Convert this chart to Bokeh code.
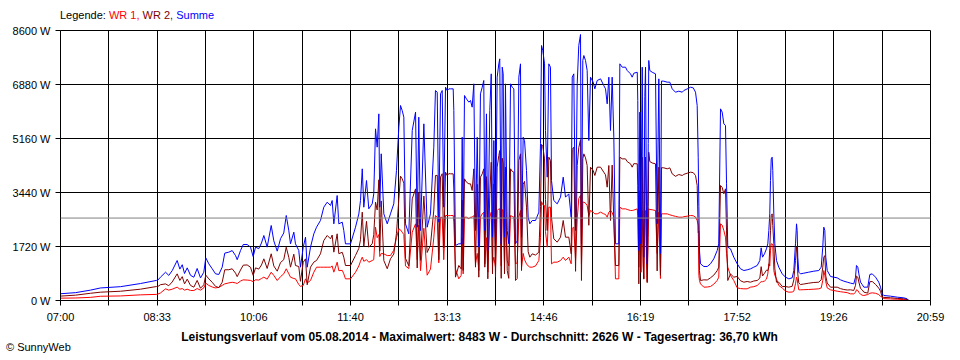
import numpy as np
from bokeh.plotting import figure
from bokeh.models import FixedTicker, Span, Range1d, Div
from bokeh.layouts import column
from bokeh.embed import file_html
from bokeh.resources import INLINE

FONT = "Liberation Sans"

# time in minutes after 07:00
t_min = [
    0.0, 14.5, 28.9, 38.6, 57.9, 77.1, 92.6,
    93.5, 96.4, 101.3, 104.4, 107.7, 112.5, 115.1, 117.4, 119.6, 122.2, 125.4, 128.6, 131.8, 135.0,
    138.2, 140.1, 143.0, 146.3, 149.5, 152.7, 155.9, 158.4, 162.3, 165.6, 168.8, 170.4, 173.6, 176.2,
    180.0, 183.2, 185.8, 188.1, 191.2, 193.8, 196.1, 199.3, 203.2, 205.7, 209.0, 212.2, 215.3, 217.7, 220.2,
    221.8, 225.0, 226.6, 229.8, 231.4, 234.1, 236.3, 237.9, 241.1, 244.3, 246.9, 250.7, 253.9, 257.2,
    260.4, 262.0, 263.6, 266.8, 268.4, 271.7, 273.2, 274.8, 279.7, 284.5, 287.7, 289.3, 291.0, 292.5,
    295.1, 297.3, 300.6, 302.1, 303.8, 305.4, 307.0, 307.9, 309.3, 311.8, 315.1, 318.2, 321.4, 324.0,
    326.3, 327.9, 329.5, 331.1, 332.7, 335.9, 339.2, 342.4, 344.0, 345.5, 347.2, 350.4, 353.6, 356.8,
    360.0, 361.6, 363.3, 364.8, 366.5, 368.1, 369.6, 371.3, 372.9, 374.5,
    376.1, 378.7, 379.3, 380.9, 384.1, 386.4, 387.4, 388.3, 389.6, 391.5, 393.8, 395.4, 397.0, 398.6,
    400.2, 401.9, 403.4, 405.0, 406.7, 408.2, 409.2, 410.8, 412.1, 414.0, 415.4, 416.6, 417.9, 419.5,
    421.1, 422.7, 423.6, 425.0, 426.0, 426.9, 428.2, 429.1, 430.8, 432.3, 434.0, 435.6, 437.2, 438.8,
    440.4, 442.0, 443.6, 444.6, 446.2, 447.5, 449.4, 451.0, 452.6, 454.9, 458.1, 461.3, 462.9, 463.9,
    465.1, 466.8, 467.7, 469.4, 470.9, 472.5, 473.5, 475.7, 479.0, 482.2, 484.8, 487.0, 490.2, 492.5,
    493.5, 495.0, 496.7, 498.3, 499.8, 501.5, 502.4, 503.7, 504.7, 506.3, 507.9, 509.5, 511.1, 513.7,
    515.3, 517.6, 520.8, 523.9, 525.6, 527.2, 528.8, 530.4, 532.0, 533.6, 535.2, 538.4,
    539.4, 541.7, 544.9, 546.5, 549.7, 551.3, 552.9, 556.2, 556.7, 557.7, 558.7, 559.6, 561.0, 561.9,
    562.5, 563.5, 564.2, 565.1, 565.8, 566.8, 567.3, 568.3, 570.6, 573.8, 575.4, 577.0, 578.6, 579.6,
    581.8, 585.1, 587.6, 589.9, 593.1, 596.3, 599.6, 601.1, 604.4, 607.6, 610.2, 612.4, 614.0, 615.0,
    615.6, 616.2, 617.2, 620.4, 623.7, 626.8, 630.0, 633.3, 634.8, 636.5, 638.1, 639.7, 641.3, 642.3,
    643.5, 646.1, 649.3, 652.6, 655.8, 659.0, 662.2,
    665.4, 668.6, 671.9, 674.4, 675.7, 677.0, 678.9, 680.8, 682.1, 683.1, 684.0, 684.7, 685.4, 686.3,
    686.9, 687.9, 688.9, 690.5, 692.7, 696.0, 699.2, 702.4, 705.6, 707.2, 708.8, 709.8, 710.4, 711.0,
    712.0, 713.6, 716.8, 721.6, 726.5, 731.3, 733.6, 735.1, 736.1, 737.1, 738.0, 739.4, 742.6, 745.8,
    749.0, 752.2, 755.4, 758.7, 761.9, 765.0, 766.7, 767.6, 768.9, 769.9, 771.5, 773.1, 774.7, 778.5,
    780.5, 782.8, 786.0, 789.1, 790.8, 792.4, 794.0, 800.4, 806.9, 813.3, 816.5, 818.1,
]

# Summe (W)
summe = [
    215, 250, 330, 400, 440, 540, 640,
    637, 743, 901, 800, 950, 1274, 1000, 1140, 860, 1040, 800, 743, 1020, 720,
    900, 1359, 1170, 1010, 850, 830, 1060, 1508, 1540, 1590, 1430, 1300, 1590, 1783,
    1783, 1700, 1400, 1700, 1650, 1830, 2070, 1700, 2389, 1900, 1571, 1970, 2150, 2707, 2220,
    1805, 2176, 1805, 1592, 1061, 1699, 2017, 1061, 1699, 2123, 2335, 2548, 2972, 3132,
    3026, 3185, 2442, 3344, 2442, 2495, 2229, 1805, 1805, 2335, 2760, 3185, 4194, 2972,
    3822, 2920, 3079, 3397, 5468, 4884, 5945, 2972, 4672, 2760, 2442, 2760, 3079, 4141,
    5521, 6211, 6052, 5839, 2442, 2123, 5414, 5998, 2335, 5839, 2229, 5627, 2335, 2760,
    4884, 6688, 6635, 2495, 6582, 6688, 2972, 6794, 6688, 6741,
    6742, 6742, 6051, 1752, 1806, 1806, 5202, 1806, 6529, 6423, 6317, 6370, 6158, 6901,
    2230, 5202, 1699, 6582, 6794, 7007, 2230, 5945, 1593, 6051, 7219, 2017, 5096, 1806,
    7113, 7538, 7697, 1806, 7432, 7219, 2017, 6901, 2230, 1806, 6901, 6794, 6742, 1806,
    1900, 7113, 7538, 2017, 5202, 5096, 4141, 2654, 2442, 2548, 2548, 2813, 4990, 8122,
    7963, 7538, 5415, 3928, 7538, 7432, 3822, 3185, 3079, 3291, 3928, 3291, 3397, 2654,
    7113, 7219, 2230, 6901, 8122, 8472, 1806, 7644, 7803, 7644, 7326, 5096, 7113, 6954,
    6742, 7007, 7060, 6848, 6742, 6264, 7113, 5415, 7113, 5202, 1806, 1806,
    7538, 7431, 7431, 7325, 7219, 7113, 7240, 7271, 6370, 1592, 6000, 1800, 7431, 2500,
    1380, 6500, 7431, 3000, 1168, 5000, 7644, 7325, 7271, 7219, 2442, 7060, 1500, 6990,
    6986, 6954, 6954, 6741, 6635, 6667, 6635, 6688, 6741, 6794, 6773, 6635, 6211, 4565,
    3000, 1592, 1168, 1083, 1083, 1168, 1327, 1592, 1805, 6105, 6000, 5627, 5574, 3716,
    1699, 1646, 1380, 1168, 1009, 955, 977,
    1008, 1062, 1115, 1274, 1677, 1380, 1487, 1646, 1805, 2230, 2760, 3822, 4512, 4565,
    4141, 2760, 1805, 1274, 1062, 849, 743, 690, 722, 955, 1805, 2442, 2230, 1380,
    902, 849, 870, 902, 934, 955, 1062, 1699, 2336, 2230, 1380, 955, 764, 743,
    722, 658, 616, 584, 552, 531, 743, 1115, 1062, 849, 584, 510, 425, 425,
    828, 849, 743, 584, 425, 212, 159, 138, 106, 85, 53, 0,
]

# WR 1 (W)
wr1 = [
    75, 80, 100, 135, 145, 180, 195,
    200, 240, 372, 330, 360, 425, 360, 380, 330, 360, 320, 318, 380, 330,
    400, 551, 480, 430, 400, 420, 480, 530, 560, 580, 560, 540, 620, 658,
    650, 640, 600, 660, 650, 700, 743, 680, 901, 800, 637, 760, 850, 1010, 850,
    743, 700, 690, 510, 450, 480, 690, 560, 637, 900, 1061, 1061, 1061, 1061,
    1061, 1100, 902, 1220, 950, 960, 850, 690, 690, 900, 1100, 1250, 1380, 1250,
    1300, 1220, 1274, 1300, 2335, 2000, 2100, 1400, 1500, 1486, 1430, 1433, 1600, 2000,
    2282, 2250, 2176, 2100, 1100, 1019, 2176, 2442, 1300, 2400, 950, 2300, 806, 1000,
    2000, 2707, 2650, 1200, 2650, 2650, 1300, 2707, 2707, 2700,
    2707, 2707, 2500, 1008, 690, 800, 2000, 849, 2654, 2654, 2601, 2654, 2654, 2707,
    1168, 1500, 955, 2654, 2760, 2813, 1168, 2000, 902, 2654, 2813, 1168, 1380, 1062,
    2866, 2919, 2919, 1100, 2900, 2850, 1168, 2654, 1274, 1100, 2707, 2680, 2654, 1168,
    1200, 2654, 2866, 1062, 1500, 1300, 1168, 1100, 1062, 1062, 1100, 1274, 2000, 3150,
    3050, 3026, 2200, 1699, 2972, 2972, 1168, 1221, 1221, 1274, 1380, 1274, 1380, 1168,
    2300, 2336, 1300, 2600, 3250, 3350, 1168, 3132, 3132, 3100, 3026, 2700, 2866, 2813,
    2760, 2760, 2813, 2760, 2740, 2654, 2813, 2866, 2800, 2654, 690, 690,
    2972, 2919, 2919, 2900, 2866, 2866, 2880, 2919, 2700, 1062, 2500, 900, 2866, 1100,
    700, 2600, 2866, 1300, 600, 2000, 2919, 2900, 2890, 2866, 1500, 2813, 700, 2760,
    2760, 2760, 2730, 2707, 2680, 2654, 2654, 2670, 2686, 2707, 2700, 2654, 2548, 2400,
    800, 637, 531, 425, 430, 446, 520, 640, 743, 2442, 2400, 2230, 2017, 1500,
    1062, 800, 637, 403, 380, 372, 372,
    425, 440, 478, 560, 600, 600, 620, 680, 849, 1168, 1100, 1600, 1805, 1805,
    1752, 955, 800, 690, 478, 400, 300, 265, 270, 297, 531, 743, 700, 531,
    340, 340, 345, 350, 360, 372, 400, 637, 955, 800, 600, 400, 340, 318,
    297, 280, 265, 250, 212, 212, 260, 340, 320, 260, 200, 170, 159, 190,
    230, 244, 230, 190, 130, 106, 60, 50, 40, 30, 20, 0,
]

# WR 2 (W)
wr2 = [
    140, 170, 230, 265, 295, 360, 445,
    437, 503, 529, 470, 590, 849, 640, 760, 530, 680, 480, 425, 640, 390,
    500, 808, 690, 580, 450, 410, 580, 978, 980, 1010, 870, 760, 970, 1125,
    1133, 1060, 800, 1040, 1000, 1130, 1327, 1020, 1488, 1100, 934, 1210, 1300, 1697, 1370,
    1062, 1476, 1115, 1082, 611, 1219, 1327, 501, 1062, 1223, 1274, 1487, 1911, 2071,
    1965, 2085, 1540, 2124, 1492, 1535, 1379, 1115, 1115, 1435, 1660, 1935, 2814, 1722,
    2522, 1700, 1805, 2097, 3133, 2884, 3845, 1572, 3172, 1274, 1012, 1327, 1479, 2141,
    3239, 3961, 3876, 3739, 1342, 1104, 3238, 3556, 1035, 3439, 1279, 3327, 1529, 1760,
    2884, 3981, 3985, 1295, 3932, 4038, 1672, 4087, 3981, 4041,
    4035, 4035, 3551, 744, 1116, 1006, 3202, 957, 3875, 3769, 3716, 3716, 3504, 4194,
    1062, 3702, 744, 3928, 4034, 4194, 1062, 3945, 691, 3397, 4406, 849, 3716, 744,
    4247, 4619, 4778, 706, 4532, 4369, 849, 4247, 956, 706, 4194, 4114, 4088, 638,
    700, 4459, 4672, 955, 3702, 3796, 2973, 1554, 1380, 1486, 1448, 1539, 2990, 4972,
    4913, 4512, 3215, 2229, 4566, 4460, 2654, 1964, 1858, 2017, 2548, 2017, 2017, 1486,
    4813, 4883, 930, 4301, 4872, 5122, 638, 4512, 4671, 4544, 4300, 2396, 4247, 4141,
    3982, 4247, 4247, 4088, 4002, 3610, 4300, 2549, 4313, 2548, 1116, 1116,
    4566, 4512, 4512, 4425, 4353, 4247, 4360, 4352, 3670, 530, 3500, 900, 4565, 1400,
    680, 3900, 4565, 1700, 568, 3000, 4725, 4425, 4381, 4353, 942, 4247, 800, 4230,
    4226, 4194, 4224, 4034, 3955, 4013, 3981, 4018, 4055, 4087, 4073, 3981, 3663, 2165,
    2200, 955, 637, 658, 653, 722, 807, 952, 1062, 3663, 3600, 3397, 3557, 2216,
    637, 846, 743, 765, 629, 583, 605,
    583, 622, 637, 714, 1077, 780, 867, 966, 956, 1062, 1660, 2222, 2707, 2760,
    2389, 1805, 1005, 584, 584, 449, 443, 425, 452, 658, 1274, 1699, 1530, 849,
    562, 509, 525, 552, 574, 583, 662, 1062, 1381, 1430, 780, 555, 424, 425,
    425, 378, 351, 334, 340, 319, 483, 775, 742, 589, 384, 340, 266, 235,
    598, 605, 513, 394, 295, 106, 99, 88, 66, 55, 33, 0,
]

x_labels = ["07:00", "08:33", "10:06", "11:40", "13:13", "14:46", "16:19", "17:52", "19:26", "20:59"]
y_ticks = [0, 1720, 3440, 5160, 6880, 8600]
avg_w = 2626
legend_parts = [("Legende:", "#000000"), ("WR 1,", "#FF0000"), ("WR 2,", "#800000"), ("Summe", "#0000FF")]
title_text = "Leistungsverlauf vom 05.08.2014 - Maximalwert: 8483 W - Durchschnitt: 2626 W - Tagesertrag: 36,70 kWh"
credit_text = "&copy; SunnyWeb"

PAGE_W = 960
TOP_H = 23
FIG_H = 303
BOT_H = 34

span_min = 839
p = figure(width=PAGE_W, height=FIG_H, output_backend="svg", toolbar_location=None,
           x_range=Range1d(0, span_min), y_range=Range1d(0, 8600),
           min_border_left=60, min_border_right=30, min_border_top=7, min_border_bottom=26)
p.outline_line_color = "black"
p.background_fill_color = "white"
p.border_fill_color = "white"
p.margin = (0, 0, 0, 0)

xt = [round(span_min * k / 18, 3) for k in range(19)]
p.xaxis.ticker = FixedTicker(ticks=xt)
p.xaxis.major_label_overrides = {xt[k]: (x_labels[k // 2] if k % 2 == 0 else "") for k in range(19)}
p.yaxis.ticker = FixedTicker(ticks=y_ticks)
p.yaxis.major_label_overrides = {v: f"{v} W" for v in y_ticks}

for g in (p.xgrid, p.ygrid):
    g.grid_line_color = "black"
    g.grid_line_alpha = 1
    g.grid_line_width = 1

for ax in (p.xaxis, p.yaxis):
    ax.axis_line_color = "black"
    ax.major_tick_line_color = "black"
    ax.major_tick_out = 5
    ax.major_tick_in = 0
    ax.minor_tick_out = 0
    ax.minor_tick_in = 0
    ax.major_label_text_font = FONT
    ax.major_label_text_font_size = "11px"
    ax.major_label_text_color = "black"
    ax.major_label_standoff = 5

p.line(t_min, wr1, line_color="#FF0000", line_width=1)
p.line(t_min, wr2, line_color="#800000", line_width=1)
p.line(t_min, summe, line_color="#0000FF", line_width=1)
p.add_layout(Span(location=avg_w, dimension="width", line_color="#808080", line_width=1))

legend_html = "&nbsp;".join(f'<span style="color:{c}">{t}</span>' for t, c in legend_parts)
top_div = Div(
    text=(f'<div style="position:relative;width:{PAGE_W}px;height:{TOP_H}px;">'
          f'<div style="position:absolute;left:60px;top:9px;white-space:nowrap;'
          f"font-family:'{FONT}';font-size:11px;line-height:13px;\">{legend_html}</div></div>"),
    width=PAGE_W, height=TOP_H, margin=(0, 0, 0, 0))

bot_div = Div(
    text=(f'<div style="position:relative;width:{PAGE_W}px;height:{BOT_H}px;">'
          f'<div style="position:absolute;left:0px;top:4px;width:959px;text-align:center;white-space:nowrap;'
          f"font-family:'{FONT}';font-weight:bold;font-size:12px;line-height:14px;\">{title_text}</div>"
          f'<div style="position:absolute;left:6px;top:15px;white-space:nowrap;'
          f"font-family:'{FONT}';font-size:11px;line-height:13px;\">{credit_text}</div></div>"),
    width=PAGE_W, height=BOT_H, margin=(0, 0, 0, 0))

layout = column(top_div, p, bot_div, spacing=0)
open("out.html", "w").write(file_html(layout, INLINE))
